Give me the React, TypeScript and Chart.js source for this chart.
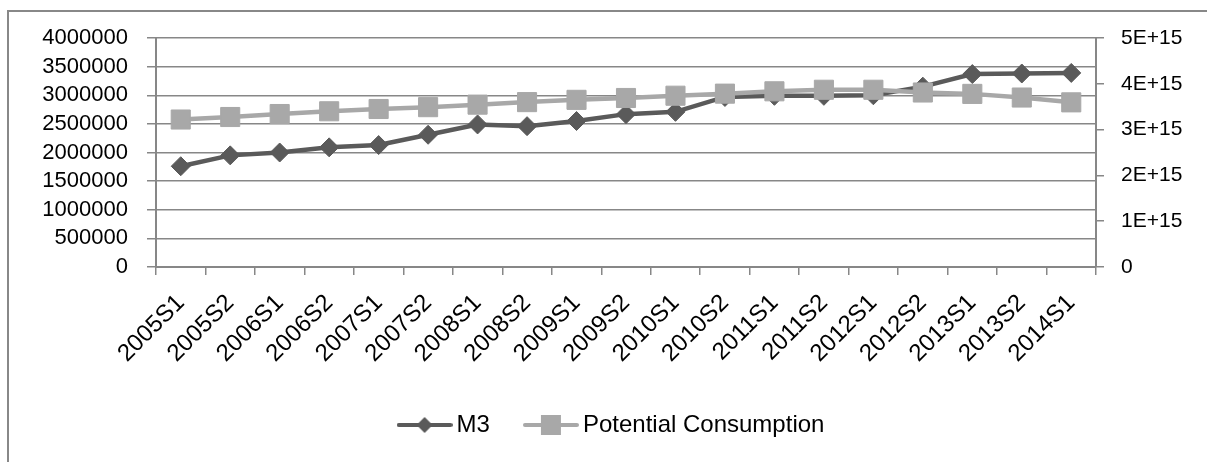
import React, { useEffect, useRef } from 'react';
import { Chart, registerables } from 'chart.js';

Chart.register(...registerables);

// Half-year periods on the category axis
const PERIODS = [
  '2005S1', '2005S2', '2006S1', '2006S2', '2007S1', '2007S2', '2008S1', '2008S2',
  '2009S1', '2009S2', '2010S1', '2010S2', '2011S1', '2011S2', '2012S1', '2012S2',
  '2013S1', '2013S2', '2014S1',
];

// Money supply (left axis)
const M3_VALUES = [
  1760000, 1950000, 2000000, 2090000, 2130000, 2310000, 2490000, 2460000,
  2550000, 2670000, 2710000, 2970000, 2990000, 2990000, 3000000, 3150000,
  3370000, 3380000, 3390000,
];

// Potential consumption (right axis)
const POTENTIAL_CONSUMPTION = [
  3.22e15, 3.275e15, 3.34e15, 3.4e15, 3.45e15, 3.49e15, 3.545e15, 3.6e15,
  3.65e15, 3.69e15, 3.74e15, 3.785e15, 3.836e15, 3.87e15, 3.87e15, 3.81e15,
  3.78e15, 3.7e15, 3.595e15,
];

const SERIES_NAMES = ['M3', 'Potential Consumption'];
const RIGHT_TICK_LABELS = ['0', '1E+15', '2E+15', '3E+15', '4E+15', '5E+15'];

const M3_COLOR = '#5a5a5a';
const PC_COLOR = '#a8a8a8';
const AXIS_COLOR = '#878787';
const FONT = 'Liberation Sans, Arial, Helvetica, sans-serif';

// Small line-with-marker swatch used as the legend symbol
function legendSwatch(color: string, shape: 'diamond' | 'square'): HTMLCanvasElement {
  const c = document.createElement('canvas');
  c.width = 56;
  c.height = 22;
  const ctx = c.getContext('2d')!;
  ctx.strokeStyle = color;
  ctx.fillStyle = color;
  ctx.lineWidth = 4;
  ctx.lineCap = 'round';
  ctx.beginPath();
  ctx.moveTo(2, 11);
  ctx.lineTo(54, 11);
  ctx.stroke();
  ctx.beginPath();
  if (shape === 'diamond') {
    ctx.moveTo(20, 11);
    ctx.lineTo(28, 3);
    ctx.lineTo(36, 11);
    ctx.lineTo(28, 19);
    ctx.closePath();
    ctx.fill();
  } else {
    ctx.fillRect(18, 1, 20, 20);
  }
  return c;
}

export default function App() {
  const canvasRef = useRef<HTMLCanvasElement | null>(null);

  useEffect(() => {
    const canvas = canvasRef.current;
    if (!canvas) return;
    const swatches = [legendSwatch(M3_COLOR, 'diamond'), legendSwatch(PC_COLOR, 'square')];

    const chart = new Chart(canvas, {
      type: 'line',
      data: {
        labels: PERIODS,
        datasets: [
          {
            label: SERIES_NAMES[0],
            data: M3_VALUES,
            yAxisID: 'y',
            order: 1,
            borderColor: M3_COLOR,
            backgroundColor: M3_COLOR,
            borderWidth: 4.5,
            pointStyle: 'rectRot',
            pointRadius: 9.5,
            pointBorderWidth: 1,
            pointBackgroundColor: M3_COLOR,
            pointBorderColor: M3_COLOR,
            tension: 0,
          },
          {
            label: SERIES_NAMES[1],
            data: POTENTIAL_CONSUMPTION,
            yAxisID: 'y1',
            order: 0,
            borderColor: PC_COLOR,
            backgroundColor: PC_COLOR,
            borderWidth: 4.5,
            pointStyle: 'rect',
            pointRadius: 13.5,
            pointBorderWidth: 1,
            pointBackgroundColor: PC_COLOR,
            pointBorderColor: PC_COLOR,
            tension: 0,
          },
        ],
      },
      options: {
        responsive: false,
        animation: false,
        devicePixelRatio: 1,
        layout: { padding: { left: 22, right: 0, top: 38, bottom: 15 } },
        plugins: {
          tooltip: { enabled: false },
          legend: {
            display: true,
            position: 'bottom',
            labels: {
              usePointStyle: true,
              pointStyleWidth: 40,
              boxHeight: 24,
              padding: 41,
              color: '#000',
              font: { family: FONT, size: 24 },
              generateLabels: (c: any) =>
                c.data.datasets.map((ds: any, i: number) => ({
                  text: ds.label,
                  pointStyle: swatches[i],
                  fillStyle: ds.borderColor,
                  strokeStyle: ds.borderColor,
                  lineWidth: 0,
                  hidden: false,
                  datasetIndex: i,
                })),
            },
          },
        },
        scales: {
          x: {
            offset: true,
            grid: {
              display: true,
              offset: true,
              drawOnChartArea: false,
              drawTicks: true,
              tickLength: 8,
              color: AXIS_COLOR,
              lineWidth: 1.5,
            },
            border: { display: true, color: AXIS_COLOR, width: 2 },
            ticks: {
              autoSkip: false,
              minRotation: 45,
              maxRotation: 45,
              padding: 14,
              color: '#000',
              font: { family: FONT, size: 24 },
            },
            afterFit: (s: any) => {
              s.height = 105;
            },
          },
          y: {
            position: 'left',
            min: 0,
            max: 4000000,
            ticks: {
              stepSize: 500000,
              autoSkip: false,
              padding: 19,
              color: '#000',
              font: { family: FONT, size: 22 },
              callback: (v: any) => String(v),
            },
            grid: {
              color: AXIS_COLOR,
              lineWidth: 1.5,
              drawTicks: true,
              tickLength: 9,
            },
            border: { display: true, color: AXIS_COLOR, width: 2 },
            afterFit: (s: any) => {
              s.width = 156 - 22;
            },
          },
          y1: {
            position: 'right',
            min: 0,
            max: 5e15,
            ticks: {
              stepSize: 1e15,
              autoSkip: false,
              padding: 17,
              color: '#000',
              font: { family: FONT, size: 21 },
              callback: (_v: any, i: number) => RIGHT_TICK_LABELS[i],
            },
            grid: {
              drawOnChartArea: false,
              drawTicks: true,
              tickLength: 8,
              color: AXIS_COLOR,
              lineWidth: 1.5,
            },
            border: { display: true, color: AXIS_COLOR, width: 2 },
            afterFit: (s: any) => {
              s.width = 1207 - 1096;
            },
          },
        },
      },
    });

    return () => chart.destroy();
  }, []);

  return (
    <div
      style={{
        position: 'absolute',
        left: 0,
        top: 0,
        width: 1207,
        height: 462,
        overflow: 'hidden',
        background: '#fff',
      }}
    >
      <div
        style={{
          position: 'absolute',
          left: 7,
          top: 10,
          width: 1400,
          height: 700,
          borderLeft: '2px solid #888',
          borderTop: '2px solid #888',
        }}
      />
      <canvas
        ref={canvasRef}
        width={1207}
        height={462}
        style={{ position: 'absolute', left: 0, top: 0, width: 1207, height: 462 }}
      />
    </div>
  );
}
